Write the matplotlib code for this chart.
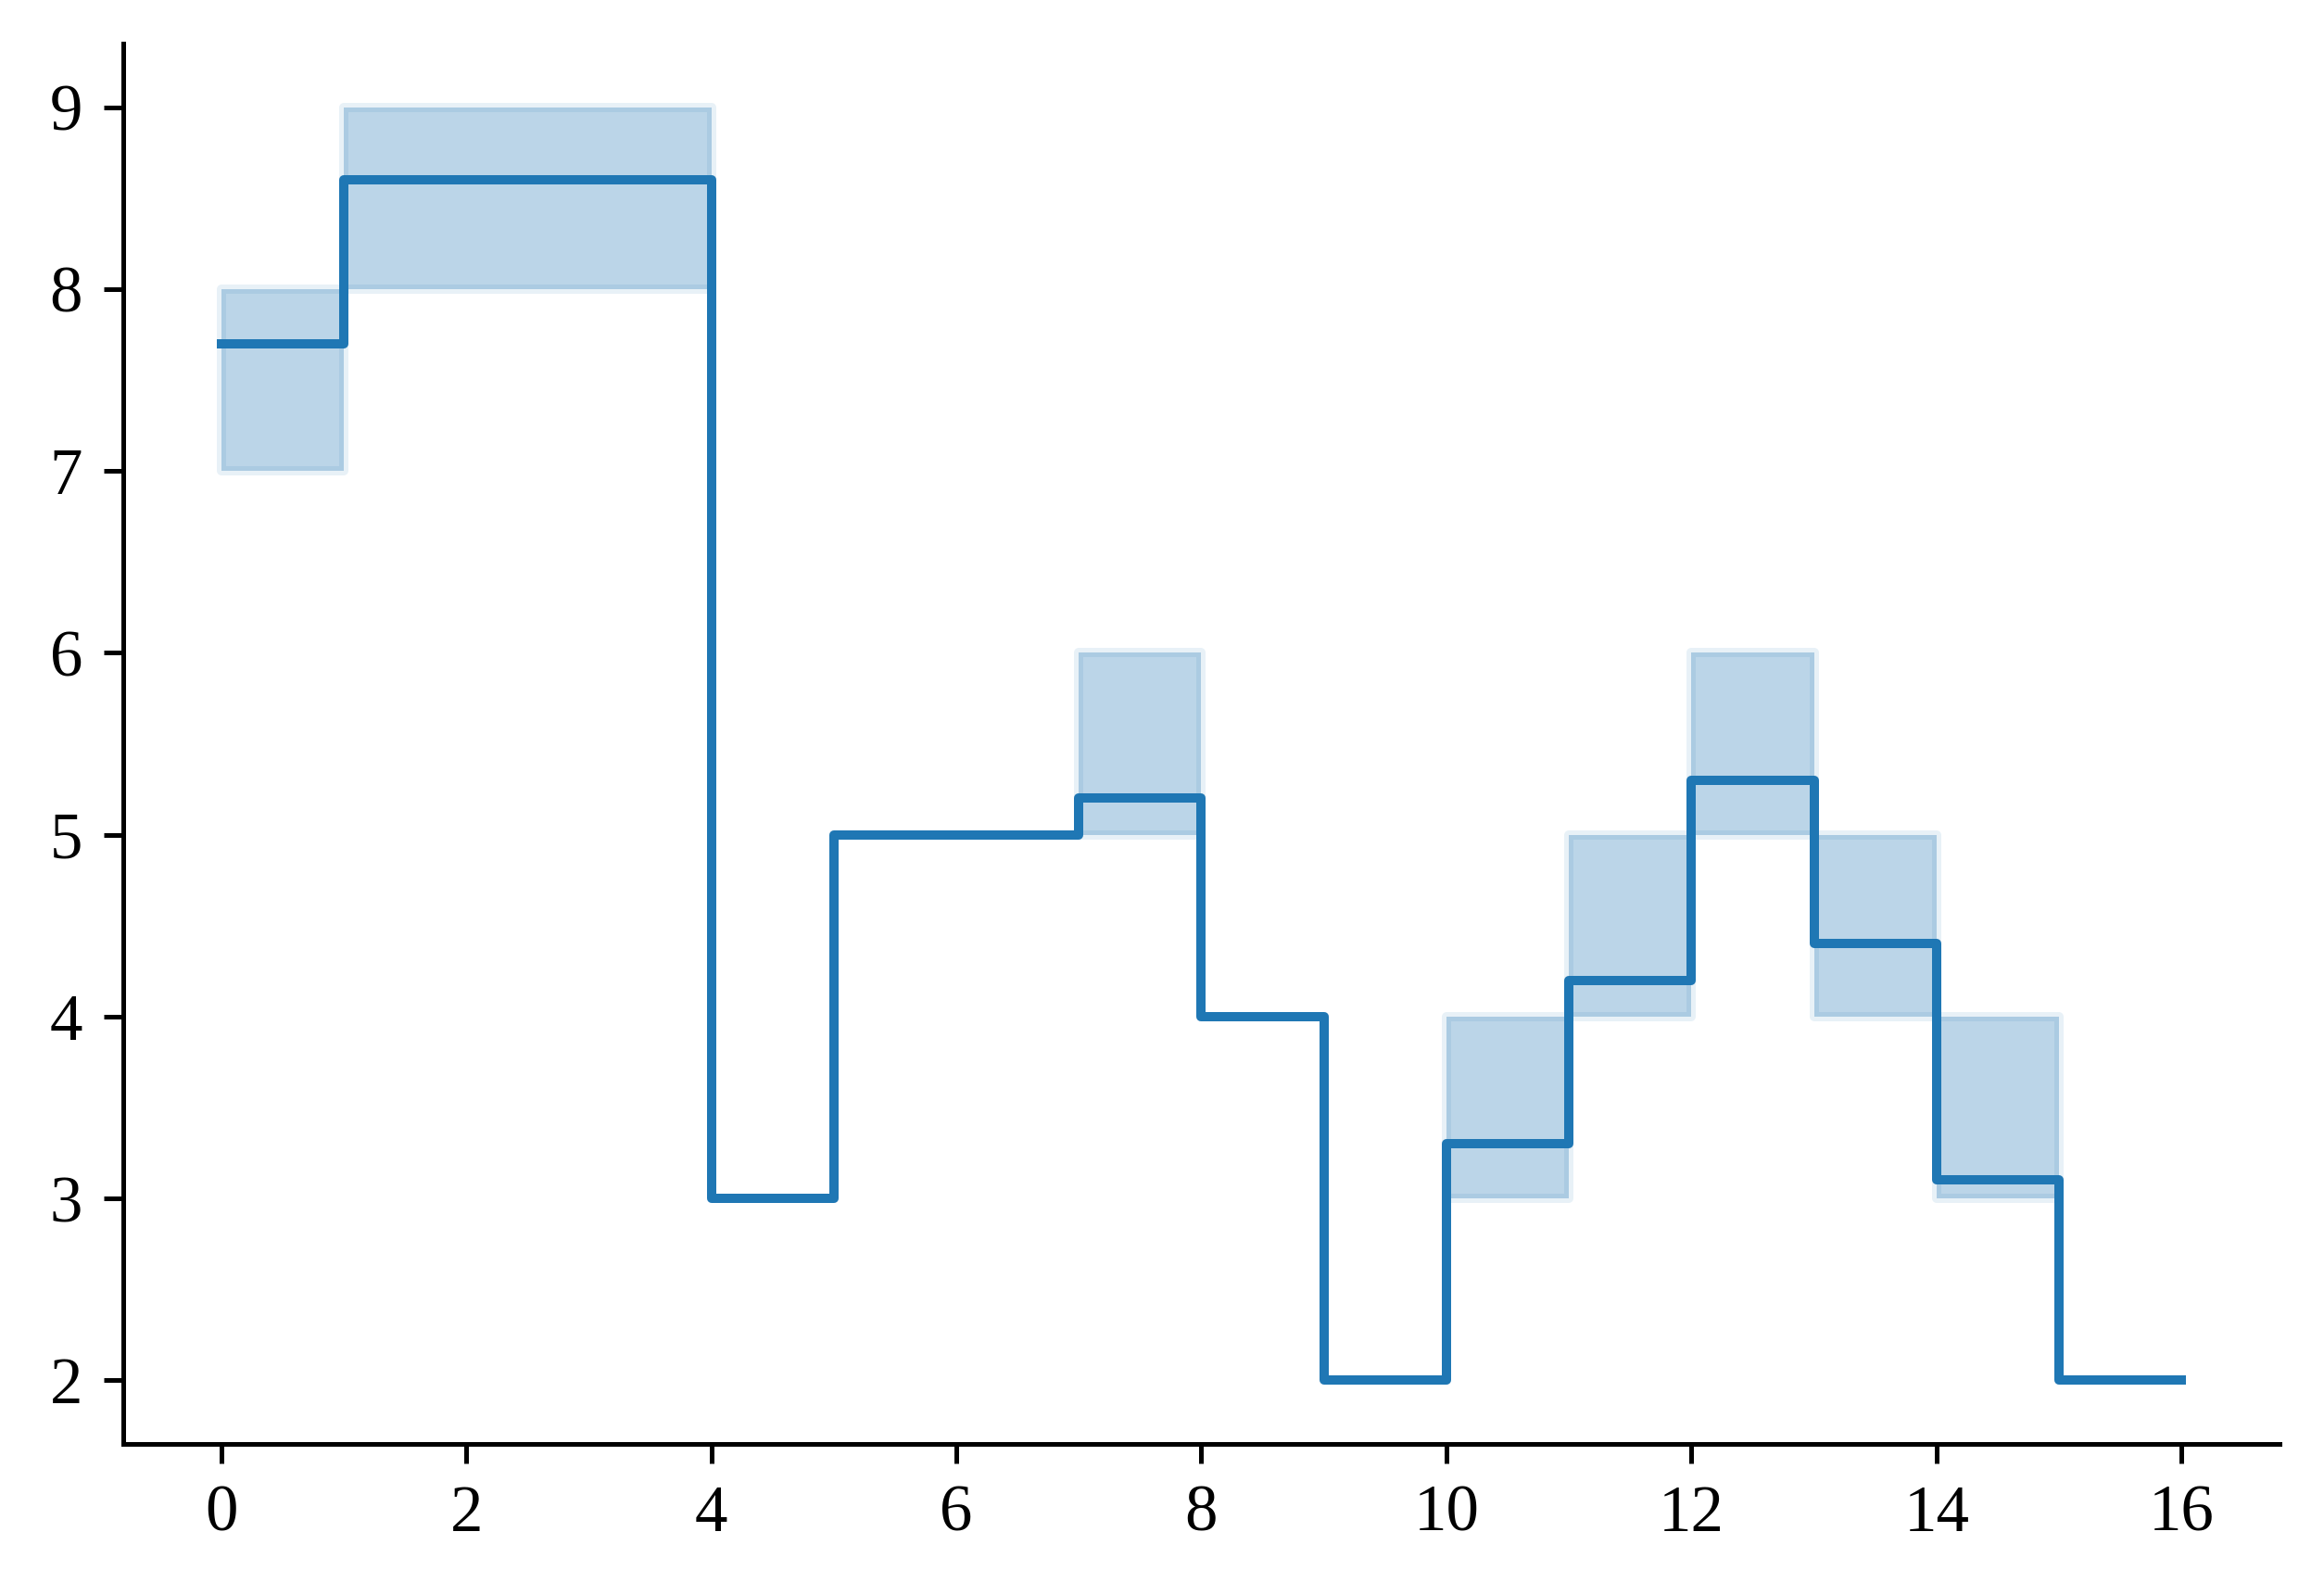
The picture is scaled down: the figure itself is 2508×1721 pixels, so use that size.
import matplotlib
matplotlib.use("Agg")
import matplotlib.pyplot as plt

# step data (value holds from x until next x)
x = [0, 1, 2, 3, 4, 5, 6, 7, 8, 9, 10, 11, 12, 13, 14, 15, 16]
y = [7.7, 8.6, 8.6, 8.6, 3.0, 5.0, 5.0, 5.2, 4.0, 2.0, 3.3, 4.2, 5.3, 4.4, 3.1, 2.0, 2.0]
band_low = [7, 8, 8, 8, 3, 5, 5, 5, 4, 2, 3, 4, 5, 4, 3, 2, 2]
band_high = [8, 9, 9, 9, 3, 5, 5, 6, 4, 2, 4, 5, 6, 5, 4, 2, 2]

C0 = "#1f77b4"

plt.rcParams["font.family"] = ["Liberation Serif", "DejaVu Serif"]

W, H = 2508, 1721
fig = plt.figure(figsize=(W / 300, H / 300), dpi=300)
ax = fig.add_axes([133 / W, (H - 1558) / H, (2460 - 133) / W, (1558 - 47) / H])

ax.fill_between(x, band_low, band_high, step="post",
                facecolor=(0.122, 0.467, 0.706, 0.3),
                edgecolor=(0.122, 0.467, 0.706, 0.1),
                linewidth=2.4, zorder=1)
ax.plot(x, y, drawstyle="steps-post", color=C0, linewidth=2.4, zorder=2)

ax.spines["top"].set_visible(False)
ax.spines["right"].set_visible(False)
for s in ("left", "bottom"):
    ax.spines[s].set_linewidth(1.2)

ax.set_xticks(range(0, 17, 2))
ax.set_yticks(range(2, 10))
ax.tick_params(labelsize=17, length=5, width=1.2, pad=5.5)

fig.savefig("out.png", dpi=300, facecolor="white")
